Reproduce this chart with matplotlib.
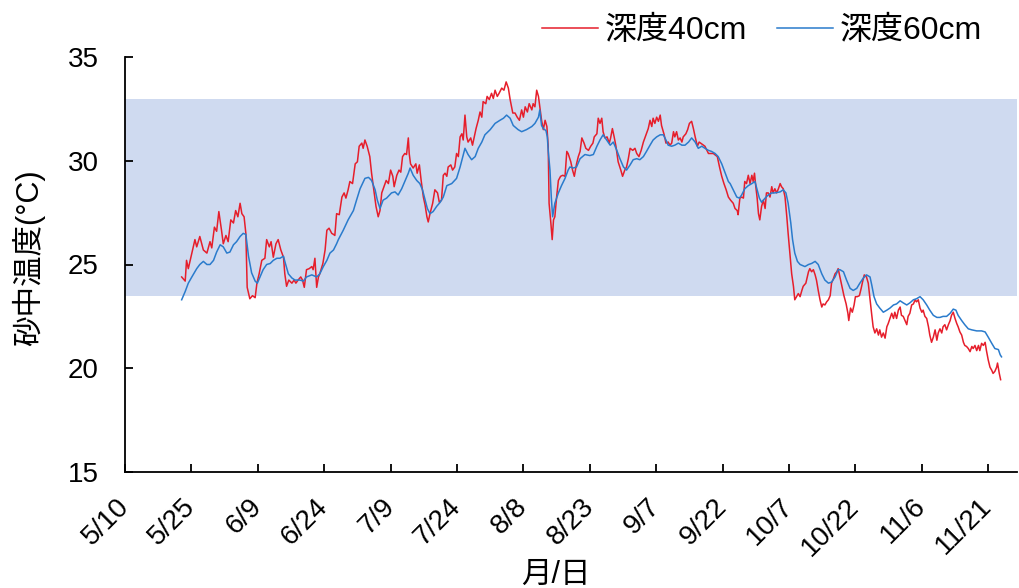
import matplotlib
matplotlib.use('Agg')
import matplotlib.pyplot as plt

plt.rcParams['font.family'] = ['Liberation Sans', 'Noto Sans CJK JP']

# days after 5/10, temperature (degC)
depth40 = [
    (12.8,24.4),(13.6,24.2),(13.9,25.2),(14.3,24.8),(15.1,25.55),(15.8,26.2),(16.2,25.85),(16.9,26.35),(17.7,25.7),(18.5,25.55),
    (19.2,26.1),(19.6,25.8),(20.2,26.8),(20.7,26.6),(21.2,27.55),(21.8,26.65),(22.2,26.0),(22.8,26.4),(23.3,26.1),(23.9,27.15),
    (24.5,27.0),(25.0,27.6),(25.5,27.3),(26.0,27.95),(26.4,27.45),(26.9,27.3),(27.3,26.5),(27.6,23.9),(28.2,23.35),(28.8,23.5),
    (29.4,23.4),(29.8,24.1),(30.3,24.55),(30.9,25.2),(31.6,25.3),(32.0,26.2),(32.6,25.85),(33.0,26.1),(33.5,25.35),(34.1,26.0),
    (34.6,26.2),(35.2,25.7),(35.8,25.35),(36.1,24.55),(36.5,23.95),(37.0,24.25),(37.7,24.1),(38.2,24.25),(38.6,24.1),(39.1,24.25),
    (39.7,24.4),(40.1,24.25),(40.5,23.9),(41.0,24.75),(41.6,24.8),(42.2,24.9),(42.5,24.75),(42.9,25.3),(43.3,23.9),(43.7,24.4),
    (44.0,24.55),(44.7,25.05),(45.2,25.7),(45.6,26.65),(46.1,26.75),(46.7,26.5),(47.1,26.45),(47.4,26.4),(47.8,27.45),(48.4,27.4),
    (49.0,28.25),(49.5,28.45),(49.9,28.2),(50.4,28.6),(50.8,29.0),(51.4,28.9),(52.0,29.85),(52.5,29.95),(52.9,30.7),(53.5,30.85),
    (53.8,30.6),(54.2,31.0),(54.7,30.7),(55.3,30.2),(55.7,29.4),(56.2,28.6),(56.7,27.8),(57.2,27.3),(57.6,27.6),(58.0,28.45),
    (58.5,28.75),(59.0,29.05),(59.5,28.9),(60.0,29.55),(60.5,29.25),(60.8,28.75),(61.4,29.3),(61.9,29.55),(62.3,29.45),(62.7,30.2),
    (63.2,30.35),(63.6,30.3),(64.0,31.1),(64.2,30.35),(64.5,29.85),(65.1,29.65),(65.7,29.85),(66.0,29.4),(66.5,29.8),(66.9,29.05),
    (67.4,28.25),(67.8,27.85),(68.2,27.3),(68.5,27.05),(68.9,27.45),(69.5,27.95),(70.0,28.6),(70.6,28.45),(71.0,28.0),(71.5,28.1),
    (71.9,29.3),(72.3,29.4),(72.7,29.25),(73.0,29.7),(73.6,29.8),(74.0,29.55),(74.5,29.7),(74.9,30.35),(75.3,30.2),(75.7,31.15),
    (76.1,31.3),(76.4,31.0),(76.8,32.2),(77.2,31.15),(77.5,30.9),(78.1,31.1),(78.5,30.75),(78.9,31.15),(79.3,31.55),(79.8,31.95),
    (80.2,32.35),(80.6,32.1),(80.9,32.85),(81.5,32.75),(81.8,33.1),(82.3,32.95),(82.8,33.25),(83.2,33.0),(83.6,33.4),(84.1,33.1),
    (84.5,33.25),(85.1,33.5),(85.6,33.4),(86.1,33.8),(86.6,33.5),(87.0,32.95),(87.6,32.3),(88.1,32.3),(88.6,32.1),(89.1,31.95),
    (89.6,32.45),(90.0,32.1),(90.4,32.6),(90.9,32.35),(91.3,32.75),(91.9,32.45),(92.2,32.75),(92.6,32.6),(93.0,33.4),(93.4,33.1),
    (93.7,32.6),(94.1,31.95),(94.5,31.5),(94.9,31.95),(95.3,31.65),(95.6,30.7),(95.8,27.95),(96.2,27.0),(96.5,26.2),(96.8,27.15),
    (97.1,27.3),(97.5,28.25),(97.9,29.05),(98.4,29.25),(98.9,29.3),(99.4,29.25),(99.8,30.45),(100.1,30.35),(100.7,29.95),(101.1,29.55),
    (101.5,29.25),(102.0,29.85),(102.4,30.2),(102.8,30.45),(103.2,31.1),(103.7,30.85),(104.1,30.6),(104.7,30.5),(105.2,30.7),(105.7,30.85),
    (106.0,31.15),(106.6,31.3),(106.9,32.05),(107.3,31.8),(107.7,32.05),(108.0,31.4),(108.4,31.1),(108.9,31.15),(109.4,30.85),(109.7,31.1),
    (110.1,31.55),(110.5,31.15),(110.9,30.7),(111.4,29.95),(112.0,29.55),(112.4,29.25),(112.9,29.55),(113.3,29.7),(113.7,30.1),(114.1,30.6),
    (114.7,30.5),(115.2,30.6),(115.6,30.35),(116.1,30.2),(116.6,30.5),(117.1,30.9),(117.7,31.25),(118.2,31.55),(118.6,31.95),(119.0,31.65),
    (119.3,32.05),(119.7,31.8),(120.1,32.1),(120.5,31.9),(120.9,32.2),(121.2,31.7),(121.8,31.25),(122.2,30.85),(122.7,30.9),(123.1,30.75),
    (123.5,30.85),(123.9,31.4),(124.2,31.15),(124.6,31.4),(125.0,31.0),(125.4,31.1),(125.8,30.9),(126.1,31.15),(126.7,31.3),(127.1,31.5),
    (127.5,31.8),(128.0,31.9),(128.4,31.55),(128.8,31.15),(129.3,30.7),(129.7,30.9),(131.0,30.7),(131.8,30.35),(132.9,30.35),(133.8,30.2),
    (134.3,29.7),(134.8,29.25),(135.3,28.9),(135.8,28.6),(136.3,28.25),(136.8,28.1),(137.4,27.95),(137.8,27.7),(138.3,27.6),(138.5,27.4),
    (138.9,28.2),(139.3,28.25),(139.7,28.2),(140.0,29.0),(140.4,28.9),(140.8,29.3),(141.2,28.9),(141.6,29.3),(141.9,29.0),(142.2,29.4),
    (142.5,28.75),(142.8,28.2),(143.1,27.45),(143.4,27.15),(143.8,27.8),(144.2,28.1),(144.6,27.7),(144.9,28.45),(145.3,28.45),(145.7,28.25),
    (146.1,28.75),(146.4,28.45),(146.8,28.65),(147.2,28.45),(147.6,28.65),(148.0,28.9),(148.3,28.75),(148.7,28.65),(149.1,28.25),(149.5,27.3),
    (149.8,26.5),(150.2,25.55),(150.6,24.55),(151.0,23.95),(151.3,23.3),(151.7,23.45),(152.1,23.6),(152.5,23.45),(152.9,23.75),(153.2,23.95),
    (153.8,24.1),(154.4,24.65),(154.7,24.8),(155.1,24.65),(155.5,24.75),(155.9,24.5),(156.2,24.25),(156.6,23.75),(157.0,23.3),(157.4,22.95),
    (157.7,23.1),(158.1,23.05),(158.5,23.2),(158.9,23.3),(159.3,23.5),(159.6,24.1),(160.0,24.3),(160.4,24.55),(160.8,24.65),(161.1,24.8),
    (161.9,24.0),(162.4,23.5),(162.9,23.1),(163.3,22.65),(163.5,22.3),(163.9,22.9),(164.3,22.7),(164.7,23.05),(165.0,23.45),(165.4,23.45),
    (165.9,23.5),(166.3,23.85),(166.6,24.15),(167.0,24.5),(167.5,24.4),(167.9,24.1),(168.3,23.3),(168.7,22.55),(169.0,22.0),(169.4,21.7),
    (169.8,21.9),(170.2,21.6),(170.5,21.85),(170.9,21.5),(171.3,21.7),(171.7,21.45),(172.1,22.0),(172.4,22.15),(172.8,22.4),(173.2,22.65),
    (173.6,22.4),(173.9,22.7),(174.3,22.4),(174.7,22.8),(175.1,22.95),(175.4,22.55),(175.8,22.5),(176.2,22.3),(176.6,22.1),(176.9,22.5),
    (177.3,22.65),(177.7,23.05),(178.1,23.1),(178.5,23.3),(178.8,23.2),(179.2,23.3),(179.6,22.9),(180.0,22.7),(180.3,22.8),(180.7,22.5),
    (181.1,22.4),(181.5,22.0),(181.8,21.6),(182.2,21.25),(182.6,21.5),(183.0,21.85),(183.4,21.35),(183.7,21.7),(184.1,21.9),(184.5,21.7),
    (184.8,22.0),(185.2,22.1),(185.6,21.85),(186.0,22.1),(186.4,22.3),(186.7,22.55),(187.1,22.7),(187.5,22.4),(187.9,22.15),(188.2,22.0),
    (188.6,21.75),(189.0,21.6),(189.4,21.25),(189.7,21.1),(190.1,21.05),(190.5,20.95),(190.9,20.8),(191.3,21.05),(191.6,20.95),(192.0,21.1),
    (192.4,20.85),(192.8,21.1),(193.1,20.85),(193.5,21.2),(193.9,21.1),(194.3,21.25),(194.6,20.85),(195.0,20.4),(195.4,20.05),(195.8,19.9),
    (196.1,19.75),(196.5,19.85),(196.9,20.05),(197.1,20.25),(197.5,19.75),(197.8,19.45),
]

depth60 = [
    (12.8,23.3),(13.6,23.7),(14.3,24.1),(15.1,24.4),(16.2,24.8),(16.9,25.0),(17.7,25.15),(18.5,25.0),(19.2,25.0),(20.0,25.2),
    (20.7,25.6),(21.5,25.95),(22.2,25.85),(23.0,25.55),(23.7,25.6),(24.5,25.95),(25.2,26.1),(26.0,26.35),(26.7,26.5),(27.3,26.45),
    (27.9,25.4),(28.6,24.6),(29.4,24.2),(29.9,24.1),(30.5,24.4),(31.2,24.75),(32.0,25.0),(32.8,25.05),(33.5,25.2),(34.3,25.3),
    (35.0,25.3),(35.8,25.4),(36.1,25.15),(36.9,24.55),(37.7,24.35),(38.4,24.25),(39.5,24.25),(40.3,24.2),(41.0,24.4),(42.2,24.5),
    (43.3,24.4),(44.0,24.55),(44.8,24.9),(45.6,25.2),(46.3,25.55),(47.1,25.7),(47.8,26.0),(48.2,26.2),(49.3,26.65),(50.4,27.15),
    (51.6,27.6),(52.3,28.1),(53.1,28.65),(54.2,29.15),(55.0,29.2),(55.7,29.05),(56.5,28.6),(57.0,28.1),(57.6,27.7),(58.3,28.1),
    (59.1,28.2),(60.2,28.45),(61.0,28.5),(61.7,28.35),(62.5,28.65),(63.2,29.0),(64.0,29.4),(64.4,29.65),(65.1,29.3),(65.9,29.05),
    (66.6,28.9),(67.2,28.6),(67.8,28.1),(68.3,27.7),(68.9,27.45),(69.6,27.55),(70.4,27.8),(71.2,28.0),(71.9,28.25),(72.7,28.8),
    (73.8,28.9),(74.9,29.15),(75.7,29.7),(76.3,30.2),(76.8,30.6),(77.5,30.3),(78.3,30.05),(79.1,30.2),(79.8,30.6),(80.6,30.9),
    (81.3,31.25),(82.5,31.5),(83.6,31.8),(84.7,31.95),(85.5,32.05),(86.2,32.2),(87.0,32.05),(87.7,31.7),(88.8,31.5),(89.6,31.4),
    (90.7,31.5),(91.9,31.65),(92.6,31.8),(93.4,32.1),(93.7,32.45),(94.1,31.7),(94.5,31.55),(95.1,31.45),(95.4,31.15),(95.6,30.5),
    (96.0,29.55),(96.3,28.25),(96.6,27.3),(97.1,27.95),(97.9,28.45),(98.6,28.8),(99.4,29.15),(100.1,29.55),(100.5,29.7),(101.3,29.65),
    (102.0,29.7),(102.8,30.1),(103.9,30.3),(105.0,30.25),(105.8,30.3),(106.6,30.7),(107.3,31.0),(108.0,31.25),(108.8,31.0),(109.6,30.75),
    (110.3,30.9),(111.1,30.5),(111.8,30.1),(112.6,29.7),(113.3,29.55),(114.1,29.8),(114.8,30.05),(115.6,30.1),(116.3,30.05),(117.1,30.2),
    (117.8,30.45),(118.6,30.75),(119.3,31.0),(120.1,31.15),(120.9,31.25),(121.6,31.25),(122.2,31.0),(122.7,30.75),(123.5,30.7),(124.2,30.75),
    (125.0,30.85),(125.8,30.75),(126.5,30.75),(127.3,30.9),(128.0,31.1),(128.8,30.9),(129.5,30.6),(130.3,30.7),(131.0,30.6),(131.8,30.5),
    (132.5,30.45),(133.3,30.35),(134.0,30.2),(134.8,29.85),(135.5,29.45),(136.3,29.0),(136.7,28.9),(137.4,28.6),(138.2,28.25),(138.8,28.2),
    (139.3,28.35),(140.0,28.65),(140.8,28.8),(141.6,28.9),(142.3,29.0),(142.8,28.6),(143.3,28.2),(143.8,28.0),(144.6,28.2),(145.3,28.35),
    (146.1,28.45),(146.8,28.45),(148.0,28.5),(148.7,28.6),(149.3,28.45),(149.8,27.95),(150.4,27.0),(150.8,26.2),(151.3,25.55),(151.9,25.15),
    (152.5,25.0),(153.6,24.9),(154.4,25.0),(155.1,25.05),(155.9,25.15),(156.6,25.0),(157.4,24.55),(158.1,24.25),(158.9,24.1),(159.6,24.15),
    (160.4,24.4),(161.1,24.75),(161.5,24.75),(162.3,24.65),(163.0,24.25),(163.8,23.85),(164.5,23.75),(165.3,23.85),(166.0,24.1),(166.8,24.35),
    (167.5,24.5),(168.3,24.4),(168.7,24.0),(169.2,23.45),(169.8,23.1),(170.5,22.9),(171.3,22.7),(172.1,22.8),(172.8,22.9),(173.6,23.05),
    (174.3,23.1),(175.1,23.25),(175.8,23.15),(176.6,23.05),(177.3,23.15),(178.1,23.3),(178.8,23.35),(179.6,23.45),(180.3,23.3),(181.1,23.05),
    (181.8,22.8),(182.6,22.55),(183.4,22.45),(184.1,22.45),(184.8,22.5),(185.6,22.5),(186.4,22.65),(187.1,22.85),(187.7,22.8),(188.2,22.55),
    (189.0,22.3),(189.7,22.1),(190.5,21.9),(191.3,21.85),(192.4,21.8),(193.5,21.8),(194.3,21.75),(195.0,21.5),(195.8,21.2),(196.5,20.95),
    (197.3,20.9),(197.7,20.65),(198.0,20.55),
]

tick_days = [0, 15, 30, 45, 60, 75, 90, 105, 120, 135, 150, 165, 180, 195]
tick_labels = ['5/10', '5/25', '6/9', '6/24', '7/9', '7/24', '8/8', '8/23',
               '9/7', '9/22', '10/7', '10/22', '11/6', '11/21']
band_low, band_high = 23.5, 33.0

d40, t40 = zip(*depth40)
d60, t60 = zip(*depth60)

fig = plt.figure(figsize=(10.19, 5.88), dpi=100)
ax = fig.add_axes([125/1019, 1-472/588, 892/1019, 415/588])

ax.axhspan(band_low, band_high, color='#CFDAF0', lw=0, zorder=0)
ax.plot(d40, t40, color='#E61E2B', lw=1.1, label='深度40cm')
ax.plot(d60, t60, color='#2A7BCC', lw=1.1, label='深度60cm')

ax.set_xlim(0, 201.5)
ax.set_ylim(15, 35)
ax.set_yticks([15, 20, 25, 30, 35])
ax.set_xticks(tick_days)
ax.set_xticklabels(tick_labels, rotation=45, ha='right', va='center',
                   rotation_mode='anchor')

for s in ['top', 'right']:
    ax.spines[s].set_visible(False)
for s in ['left', 'bottom']:
    ax.spines[s].set_linewidth(1.3)

ax.tick_params(direction='in', length=6, width=1.3, labelsize=20)
ax.tick_params(axis='y', pad=19)
ax.tick_params(axis='x', pad=22)

ax.legend(loc='center right', bbox_to_anchor=(982/1019, 1-31/588),
          bbox_transform=fig.transFigure, ncol=2, frameon=False, fontsize=23,
          handlelength=1.75, handletextpad=0.2, columnspacing=0.95,
          borderpad=0, borderaxespad=0)

fig.text(29/1019, 1-258/588, '砂中温度(°C)', rotation=90, ha='center',
         va='center', fontsize=22)
fig.text(556/1019, 1-575/588, '月/日', ha='center', va='center', fontsize=22)

fig.savefig('out.png', dpi=100)
